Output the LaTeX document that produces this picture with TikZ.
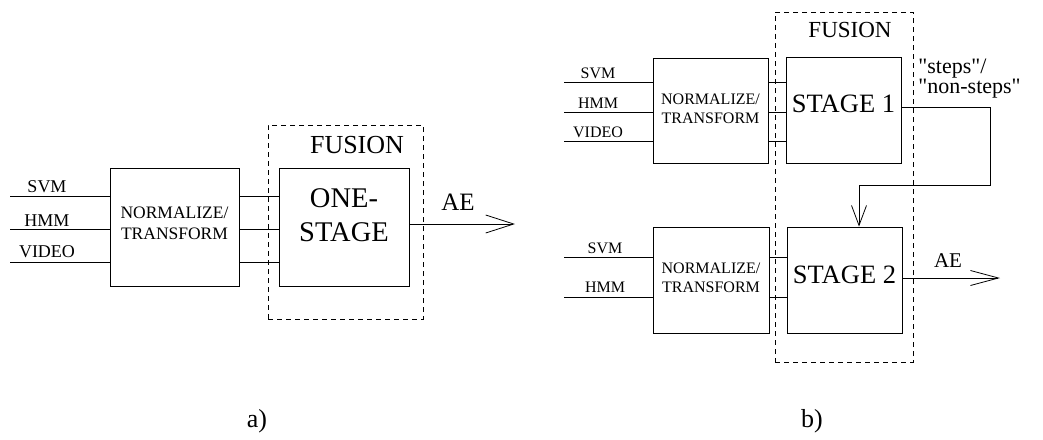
\documentclass[tikz,border=0pt]{standalone}
\usepackage{fontspec}
\setmainfont{Liberation Serif}[Ligatures=TeXOff]
\usetikzlibrary{arrows.meta}
\newcommand\sz[2]{\fontsize{#1}{#2}\selectfont}

\begin{document}
\begin{tikzpicture}[x=1pt,y=-1pt,line width=0.8pt,
  blockbox/.style={draw,inner sep=0pt},
  fusionbox/.style={draw,inner sep=0pt,dash pattern=on 5pt off 4pt},
  txt/.style={inner sep=0pt,align=center},
  outarrow/.style={-{Straight Barb[length=28pt,width=#1]}},
]
\useasboundingbox (0,0) rectangle (1043,439);

% ---------- a) one-stage fusion ----------
\node[blockbox,minimum width=129,minimum height=118] (nl) at (174.5,227) {};
\node[txt,font=\sz{17.5}{21}] (nlt) at ([yshift=4pt]nl.center) {NORMALIZE/\\TRANSFORM};
\node[blockbox,minimum width=130,minimum height=118] (os) at (344,227) {};
\node[txt,font=\sz{28.5}{34}] (ost) at ([yshift=12pt]os.center) {ONE-\\STAGE};
\node[fusionbox,minimum width=155,minimum height=194] (fl) at (345.5,222) {};
\node[txt,font=\sz{26}{30}] (flt) at (357,145) {FUSION};

\coordinate (la1) at (10,196);
\coordinate (la2) at (10,229);
\coordinate (la3) at (10,262);
\foreach \c in {la1,la2,la3}{
  \draw (\c) -- (\c -| nl.west);
  \draw (nl.east |- \c) -- (os.west |- \c);
}
\node[txt,anchor=base,font=\sz{18}{20}] (lsvm) at (47,192) {SVM};
\node[txt,anchor=base,font=\sz{18}{20}] (lhmm) at (47,226) {HMM};
\node[txt,anchor=base,font=\sz{18}{20}] (lvid) at (47,257) {VIDEO};

\coordinate (lae) at (515,224);
\draw[outarrow=18pt] (os.east |- lae) -- (lae);
\node[txt,anchor=base,font=\sz{25}{30}] (laet) at (458,210) {AE};

\node[txt,font=\sz{26}{30}] (capa) at (257,421) {a)};

% ---------- b) two-stage fusion ----------
\node[blockbox,minimum width=115,minimum height=105] (nt) at (710.5,110.5) {};
\node[txt,font=\sz{16}{19}] (ntt) at ([yshift=2pt]nt.center) {NORMALIZE/\\TRANSFORM};
\node[blockbox,minimum width=115,minimum height=106] (s1) at (843.5,110) {};
\node[txt,font=\sz{26.5}{30}] (s1t) at ([yshift=6pt]s1.center) {STAGE 1};
\node[blockbox,minimum width=116,minimum height=106] (nb) at (711,280) {};
\node[txt,font=\sz{16}{19}] (nbt) at ([yshift=2pt]nb.center) {NORMALIZE/\\TRANSFORM};
\node[blockbox,minimum width=115,minimum height=106] (s2) at (844.5,280) {};
\node[txt,font=\sz{26.5}{30}] (s2t) at ([yshift=5pt]s2.center) {STAGE 2};
\node[fusionbox,minimum width=138,minimum height=350] (fr) at (844,187) {};
\node[txt,font=\sz{23}{26}] (frt) at (850,30) {FUSION};

\coordinate (ra1) at (564,82);
\coordinate (ra2) at (564,112);
\coordinate (ra3) at (564,141);
\foreach \c in {ra1,ra2,ra3}{
  \draw (\c) -- (\c -| nt.west);
  \draw (nt.east |- \c) -- (s1.west |- \c);
}
\node[txt,anchor=base,font=\sz{16}{18}] (rsvm) at (598,78) {SVM};
\node[txt,anchor=base,font=\sz{16}{18}] (rhmm) at (598,108) {HMM};
\node[txt,anchor=base,font=\sz{16}{18}] (rvid) at (598,137) {VIDEO};

\coordinate (rb1) at (564,257);
\coordinate (rb2) at (564,297);
\foreach \c in {rb1,rb2}{
  \draw (\c) -- (\c -| nb.west);
  \draw (nb.east |- \c) -- (s2.west |- \c);
}
\node[txt,anchor=base,font=\sz{16}{18}] (rbsvm) at (605,253) {SVM};
\node[txt,anchor=base,font=\sz{16}{18}] (rbhmm) at (605,292) {HMM};

% decision of stage 1 fed into stage 2
\node[txt,anchor=base west,font=\sz{22}{26}] (stp) at (918,73) {"steps"/};
\node[txt,anchor=base west,font=\sz{22}{26}] (nstp) at (918,93) {"non-steps"};
\coordinate (fb1) at (990,107);
\coordinate (fb2) at (859,185);
\draw[-{Straight Barb[length=20pt,width=15pt]}] (s1.east |- fb1) -- (fb1) |- (fb2) -- (fb2 |- s2.north);

\coordinate (rae) at (1000,278);
\draw[outarrow=15pt] (s2.east |- rae) -- (rae);
\node[txt,anchor=base,font=\sz{21}{26}] (raet) at (948,267) {AE};

\node[txt,font=\sz{26}{30}] (capb) at (812,421) {b)};
\end{tikzpicture}
\end{document}
